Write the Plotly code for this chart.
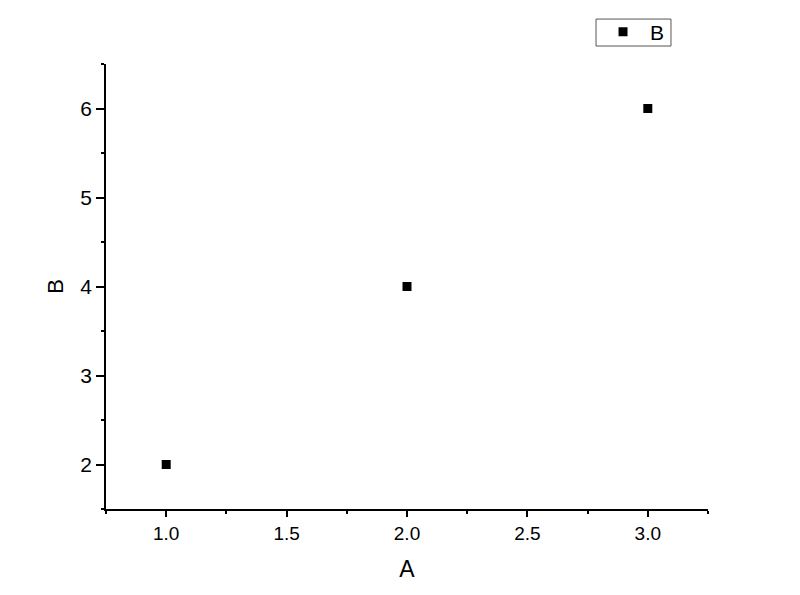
import plotly.graph_objects as go

A = [1.0, 2.0, 3.0]
B = [2, 4, 6]
x_ticks = [1.0, 1.5, 2.0, 2.5, 3.0]
x_tick_labels = ["1.0", "1.5", "2.0", "2.5", "3.0"]
y_ticks = [2, 3, 4, 5, 6]

fig = go.Figure()
fig.add_trace(go.Scatter(
    x=A, y=B, mode="markers", name="B",
    marker=dict(symbol="square", size=9, color="black"),
))

font = "Liberation Sans, Arial, sans-serif"
fig.update_layout(
    width=800, height=595,
    margin=dict(l=98, r=100, t=56, b=94, autoexpand=False),
    paper_bgcolor="white", plot_bgcolor="white",
    font=dict(family=font, size=19, color="black"),
    showlegend=True,
    legend=dict(
        x=0.814, y=1.118, xanchor="left", yanchor="top",
        borderwidth=0, bgcolor="rgba(0,0,0,0)",
        font=dict(size=21), itemwidth=44,
    ),
    shapes=[dict(
        type="rect", xref="paper", yref="paper",
        x0=0.814, x1=0.9385, y0=1.0404, y1=1.101,
        line=dict(color="#555555", width=1), layer="below",
    )],
)
fig.update_xaxes(
    range=[0.75, 3.25], tickvals=x_ticks, ticktext=x_tick_labels,
    showgrid=False, zeroline=False, showline=True, linecolor="black", linewidth=1.5,
    ticks="outside", ticklen=6, tickwidth=1.5, tickcolor="black",
    minor=dict(tickvals=[0.75, 1.25, 1.75, 2.25, 2.75, 3.25], ticks="outside", ticklen=3, tickwidth=1.5, tickcolor="black"),
    title=dict(text="A", font=dict(size=23), standoff=18),
    tickfont=dict(size=19),
)
fig.update_yaxes(
    range=[1.5, 6.5], tickvals=y_ticks,
    showgrid=False, zeroline=False, showline=True, linecolor="black", linewidth=1.5,
    ticks="outside", ticklen=8, tickwidth=1.5, tickcolor="black",
    minor=dict(tickvals=[1.5, 2.5, 3.5, 4.5, 5.5, 6.5], ticks="outside", ticklen=3, tickwidth=1.5, tickcolor="black"),
    title=dict(text="B", font=dict(size=22), standoff=11),
    tickfont=dict(size=21),
)
fig.write_html("out.html")
